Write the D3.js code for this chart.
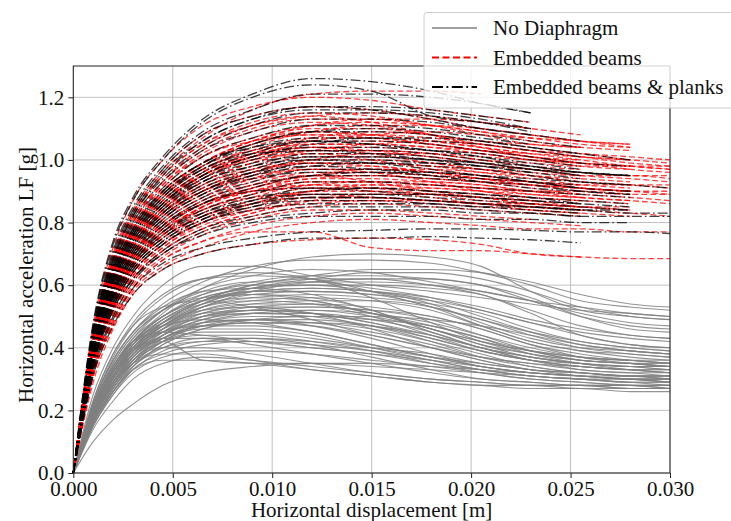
<!DOCTYPE html>
<html>
<head>
<meta charset="utf-8">
<script src="https://cdn.jsdelivr.net/npm/d3@7"></script>
<style>
  body { margin: 0; background: #fff; }
  svg text { font-family: "Liberation Serif", "Times New Roman", Times, "DejaVu Serif", serif !important; }
</style>
</head>
<body>
<script>
const W = 731, H = 521;
const PLOT = { left: 73.3, right: 670, top: 66, bottom: 473 };
const SERIF = "'Liberation Serif', 'Times New Roman', Times, 'DejaVu Serif', serif";

const X_TICKS = [0, 0.005, 0.010, 0.015, 0.020, 0.025, 0.030];
const Y_TICKS = [0.0, 0.2, 0.4, 0.6, 0.8, 1.0, 1.2];

// displacement samples shared by every curve; a curve stops where its values stop
const X_GRID = [0, 0.001, 0.002, 0.003, 0.0045, 0.0065, 0.009, 0.012, 0.015, 0.018, 0.0205, 0.023, 0.0255, 0.028, 0.030];

const SERIES_NAMES = ["No Diaphragm", "Embedded beams", "Embedded beams & planks"];

// No Diaphragm
const greyCurves = [
  [0,.20,.33,.42,.51,.59,.65,.69,.70,.69,.66,.58,.52,.50,.49],
  [0,.22,.36,.45,.54,.61,.66,.68,.68,.67,.64,.60,.55,.53,.52],
  [0,.25,.40,.50,.60,.66,.66,.63,.60,.58,.56,.54,.52,.51,.50],
  [0,.21,.34,.43,.52,.59,.63,.65,.64,.61,.58,.55,.53,.51,.50],
  [0,.23,.38,.48,.57,.62,.63,.62,.58,.53,.49,.45,.42,.40,.39],
  [0,.20,.33,.42,.50,.57,.61,.63,.63,.62,.60,.55,.50,.47,.46],
  [0,.19,.31,.40,.48,.55,.60,.62,.62,.60,.57,.52,.47,.44,.43],
  [0,.21,.35,.44,.52,.57,.60,.60,.58,.54,.48,.43,.40,.39,.38],
  [0,.20,.33,.42,.50,.56,.59,.60,.60,.59,.57,.51,.44,.41,.40],
  [0,.22,.36,.45,.53,.58,.59,.57,.52,.46,.42,.39,.37,.36,.36],
  [0,.19,.31,.40,.48,.54,.58,.59,.58,.55,.50,.45,.41,.39,.38],
  [0,.20,.32,.41,.49,.55,.58,.58,.57,.55,.52,.48,.44,.41,.40],
  [0,.18,.30,.39,.47,.53,.57,.58,.57,.53,.47,.42,.39,.38,.37],
  [0,.21,.34,.43,.50,.55,.57,.56,.52,.45,.40,.37,.35,.34,.34],
  [0,.19,.31,.40,.47,.53,.56,.57,.56,.54,.51,.46,.42,.40,.39],
  [0,.18,.29,.38,.46,.52,.55,.56,.55,.52,.47,.42,.39,.37,.36],
  [0,.20,.33,.42,.49,.54,.56,.55,.51,.46,.41,.38,.36,.35,.35],
  [0,.17,.28,.37,.45,.51,.54,.55,.55,.53,.49,.44,.40,.38,.37],
  [0,.19,.31,.40,.47,.52,.54,.54,.51,.47,.43,.39,.36,.35,.34],
  [0,.18,.30,.39,.46,.51,.53,.53,.52,.50,.46,.41,.37,.35,.34],
  [0,.21,.34,.42,.48,.52,.53,.51,.46,.40,.36,.33,.32,.31,.31],
  [0,.17,.28,.36,.44,.50,.52,.53,.52,.49,.44,.39,.36,.35,.34],
  [0,.20,.32,.40,.46,.50,.51,.50,.47,.42,.37,.34,.32,.31,.31],
  [0,.18,.29,.37,.44,.49,.51,.51,.49,.45,.40,.36,.34,.33,.32],
  [0,.16,.27,.35,.43,.48,.50,.50,.49,.47,.43,.38,.35,.33,.32],
  [0,.19,.31,.39,.45,.48,.49,.47,.43,.38,.34,.32,.31,.30,.30],
  [0,.17,.28,.36,.43,.47,.48,.48,.46,.42,.38,.34,.32,.31,.30],
  [0,.20,.32,.40,.45,.47,.47,.45,.41,.37,.34,.32,.31,.30,.29],
  [0,.16,.26,.34,.41,.46,.48,.48,.47,.44,.40,.36,.33,.32,.31],
  [0,.18,.30,.38,.43,.46,.46,.44,.40,.36,.33,.31,.30,.29,.29],
  [0,.21,.34,.42,.45,.44,.42,.40,.38,.36,.34,.32,.31,.30,.30],
  [0,.19,.31,.39,.43,.43,.41,.38,.35,.32,.30,.29,.28,.28,.28],
  [0,.17,.28,.36,.42,.44,.44,.42,.39,.35,.32,.30,.29,.28,.28],
  [0,.20,.33,.40,.42,.36,.35,.35,.34,.33,.32,.31,.30,.30,.29],
  [0,.16,.27,.34,.40,.43,.43,.41,.37,.33,.30,.29,.28,.28,.27],
  [0,.18,.29,.36,.40,.40,.38,.35,.32,.30,.29,.28,.28,.27,.27],
  [0,.15,.25,.33,.38,.41,.42,.41,.39,.36,.33,.31,.30,.29,.28],
  [0,.17,.28,.35,.38,.38,.36,.33,.31,.29,.28,.28,.27,.27,.27],
  [0,.15,.25,.32,.37,.39,.39,.38,.36,.34,.32,.30,.29,.28,.27],
  [0,.16,.26,.33,.36,.36,.35,.33,.31,.29,.28,.27,.27,.26,.26],
  [0,.10,.17,.22,.28,.32,.34,.35,.35,.34,.33,.32,.31,.30,.30],
  [0,.14,.23,.30,.35,.37,.36,.34,.32,.30,.29,.28,.28,.27,.27],
  [0,.17,.28,.35,.40,.42,.42,.40,.38,.35,.33,.31,.30,.29,.29],
  [0,.22,.37,.47,.56,.62,.64,.62,.56,.48,.42,.38,.36,.35,.34],
  [0,.19,.31,.40,.48,.55,.60,.63,.65,.65,.64,.61,.57,.54,.53],
  [0,.18,.30,.39,.47,.54,.59,.62,.64,.64,.62,.58,.53,.50,.49],
  [0,.17,.29,.38,.46,.53,.58,.61,.62,.62,.60,.56,.50,.46,.45],
  [0,.20,.32,.41,.48,.53,.55,.54,.50,.44,.39,.36,.34,.33,.33],
  [0,.16,.27,.35,.42,.48,.51,.52,.51,.48,.44,.40,.37,.36,.35],
  [0,.23,.38,.47,.53,.55,.53,.49,.44,.40,.37,.35,.34,.33,.33],
  [0,.21,.35,.44,.52,.58,.61,.61,.59,.56,.52,.48,.45,.43,.42],
  [0,.19,.32,.41,.49,.55,.58,.59,.58,.56,.53,.49,.46,.44,.43],
  [0,.18,.30,.38,.45,.50,.52,.51,.48,.43,.39,.36,.35,.34,.33],
  [0,.20,.33,.41,.47,.51,.52,.51,.48,.44,.40,.37,.35,.34,.34],
  [0,.17,.29,.37,.44,.49,.52,.52,.50,.46,.41,.37,.35,.34,.33],
  [0,.16,.27,.35,.42,.47,.49,.49,.47,.43,.39,.36,.34,.33,.32],
  [0,.21,.34,.42,.47,.49,.48,.45,.41,.37,.34,.32,.31,.31,.30],
  [0,.19,.31,.39,.45,.50,.53,.54,.53,.50,.46,.41,.38,.36,.35],
  [0,.18,.29,.37,.43,.47,.48,.47,.44,.40,.36,.33,.32,.31,.31],
  [0,.22,.36,.45,.52,.56,.57,.55,.51,.46,.42,.39,.37,.36,.35],
  [0,.15,.26,.34,.41,.46,.49,.50,.50,.49,.47,.44,.41,.39,.38],
  [0,.17,.28,.36,.42,.45,.45,.43,.40,.37,.35,.33,.32,.31,.31],
  [0,.20,.33,.42,.50,.56,.59,.61,.61,.60,.58,.55,.51,.48,.47],
  [0,.18,.30,.38,.44,.48,.49,.48,.45,.41,.37,.35,.33,.32,.32],
  [0,.16,.26,.33,.39,.42,.43,.42,.40,.38,.35,.33,.31,.30,.29]
];

// Embedded beams
const redCurves = [
  [0,.44,.68,.83,.96,1.07,1.16,1.21,1.22,1.22,1.21],
  [0,.47,.72,.87,1.00,1.11,1.17,1.20,1.19,1.16,1.14,1.12],
  [0,.45,.70,.84,.97,1.08,1.14,1.17,1.16,1.13,1.10,1.08,1.06,1.05],
  [0,.44,.68,.82,.95,1.05,1.12,1.15,1.14,1.11,1.08,1.05,1.04],
  [0,.43,.67,.81,.93,1.03,1.10,1.13,1.13,1.11,1.09,1.07,1.05,1.04],
  [0,.42,.66,.80,.92,1.02,1.09,1.12,1.11,1.08,1.05,1.03,1.01,.99,.98],
  [0,.43,.66,.79,.91,1.01,1.07,1.11,1.12,1.11,1.09,1.06,1.04],
  [0,.41,.64,.78,.90,.99,1.06,1.10,1.10,1.08,1.06,1.04,1.02,1.00],
  [0,.42,.65,.78,.90,.99,1.05,1.09,1.08,1.06,1.04,1.02,1.00,.98,.97],
  [0,.40,.63,.77,.89,.98,1.05,1.08,1.08,1.07,1.05,1.03,1.01,1.00],
  [0,.41,.63,.76,.88,.97,1.03,1.07,1.07,1.05,1.03,1.01,.99],
  [0,.40,.62,.75,.87,.96,1.02,1.06,1.06,1.05,1.03,1.01,.99,.97,.96],
  [0,.39,.61,.74,.86,.95,1.01,1.05,1.05,1.04,1.02,1.00,.98,.97],
  [0,.40,.61,.74,.85,.94,1.00,1.04,1.03,1.01,.99,.97,.95,.94,.93],
  [0,.39,.60,.73,.84,.93,.99,1.03,1.03,1.02,1.00,.99,.98,.98,.98],
  [0,.38,.59,.72,.83,.92,.98,1.02,1.02,1.01,.99,.97,.95],
  [0,.39,.60,.72,.83,.91,.97,1.01,1.01,1.00,.98,.97,.96,.95,.95],
  [0,.38,.58,.71,.82,.90,.96,1.00,1.00,.99,.97,.95,.93,.92],
  [0,.37,.58,.70,.81,.89,.95,.99,.99,.98,.96,.94,.92],
  [0,.38,.58,.70,.80,.88,.94,.98,.98,.96,.94,.92,.90,.89,.89],
  [0,.37,.57,.69,.79,.87,.93,.97,.97,.96,.95,.93,.92,.91],
  [0,.36,.56,.68,.78,.86,.92,.96,.96,.95,.93,.91,.89],
  [0,.37,.56,.68,.78,.86,.91,.95,.95,.94,.93,.92,.91,.90],
  [0,.36,.55,.67,.77,.85,.90,.94,.94,.93,.92,.90,.88,.87],
  [0,.35,.55,.66,.76,.84,.89,.93,.93,.92,.91,.89,.88],
  [0,.36,.54,.66,.75,.83,.88,.92,.92,.91,.90,.88,.87,.86],
  [0,.35,.54,.65,.74,.82,.87,.91,.91,.90,.89,.87,.85],
  [0,.34,.53,.64,.73,.81,.86,.90,.90,.89,.88,.86,.85,.84],
  [0,.35,.53,.64,.73,.80,.85,.89,.89,.89,.88,.87,.86],
  [0,.34,.52,.63,.72,.79,.84,.88,.88,.87,.86,.84,.83],
  [0,.33,.51,.62,.71,.78,.83,.87,.87,.86,.85,.84,.83,.82],
  [0,.33,.50,.61,.70,.77,.82,.85,.86,.85,.84,.83,.82],
  [0,.32,.49,.60,.69,.76,.81,.84,.84,.83,.82,.81],
  [0,.32,.48,.59,.68,.74,.79,.82,.83,.82,.81,.80,.79],
  [0,.31,.47,.58,.66,.72,.77,.80,.81,.80,.79,.78,.78,.77,.77],
  [0,.31,.48,.59,.68,.74,.77,.77,.72,.71,.71,.70,.69],
  [0,.29,.46,.57,.65,.70,.73,.745,.75,.745,.73,.70,.69,.685,.685],
  [0,.41,.64,.78,.90,.99,1.06,1.09,1.08,1.06,1.04,1.02],
  [0,.39,.61,.74,.86,.95,1.01,1.04,1.04,1.03,1.02,1.00,.99,.98],
  [0,.37,.57,.69,.80,.88,.94,.97,.97,.96,.94,.93,.91,.90,.89],
  [0,.43,.66,.80,.93,1.04,1.11,1.14,1.12,1.08,1.04,1.01,.99],
  [0,.40,.62,.75,.86,.96,1.04,1.09,1.11,1.11,1.10,1.08,1.06,1.04],
  [0,.42,.64,.77,.88,.97,1.02,1.04,1.02,.99,.97,.95,.93,.92,.91],
  [0,.38,.60,.73,.85,.95,1.02,1.07,1.09,1.08,1.06,1.05,1.04,1.03],
  [0,.41,.63,.76,.87,.95,1.00,1.02,1.00,.97,.95,.93,.91,.90],
  [0,.39,.60,.72,.82,.90,.95,.97,.96,.93,.90,.88,.87],
  [0,.36,.57,.70,.81,.90,.96,1.00,1.02,1.02,1.01,1.00,.99,.98,.97],
  [0,.37,.56,.67,.76,.84,.89,.92,.93,.93,.92,.90,.89,.88,.87],
  [0,.40,.61,.73,.83,.90,.94,.95,.93,.90,.88,.86,.85],
  [0,.35,.54,.66,.76,.85,.91,.95,.97,.97,.96,.95,.94,.93],
  [0,.38,.58,.70,.79,.86,.90,.92,.91,.89,.87,.86,.85,.84],
  [0,.36,.55,.66,.75,.82,.87,.90,.91,.91,.90,.89,.88,.87,.86],
  [0,.39,.59,.70,.79,.86,.90,.91,.90,.88,.86,.85,.84],
  [0,.34,.52,.63,.72,.80,.86,.90,.92,.92,.91,.90,.89],
  [0,.37,.56,.67,.76,.82,.86,.88,.88,.87,.86,.85,.84,.83,.82],
  [0,.44,.67,.80,.92,1.01,1.06,1.08,1.07,1.05,1.03,1.02,1.01,1.00,.99],
  [0,.43,.65,.78,.89,.98,1.03,1.05,1.05,1.04,1.03,1.01,1.00],
  [0,.41,.62,.74,.84,.92,.97,.99,.99,.98,.97,.96,.95,.95,.94],
  [0,.45,.69,.83,.95,1.05,1.11,1.14,1.15,1.14,1.12,1.10,1.08],
  [0,.38,.59,.72,.84,.94,1.01,1.06,1.08,1.09,1.08,1.07,1.06,1.05],
  [0,.40,.61,.73,.83,.91,.96,.99,.98,.96,.94,.92,.91,.90],
  [0,.36,.55,.67,.77,.85,.91,.94,.95,.94,.93,.92,.91,.90,.90],
  [0,.39,.58,.69,.78,.84,.88,.89,.88,.87,.86,.85,.84],
  [0,.42,.64,.77,.89,.99,1.06,1.11,1.13,1.13,1.12,1.10],
  [0,.37,.57,.69,.79,.87,.92,.95,.96,.95,.94,.93,.92,.92,.92],
  [0,.41,.63,.76,.87,.96,1.01,1.03,1.03,1.02,1.00,.98,.97],
  [0,.35,.53,.64,.73,.80,.84,.86,.87,.87,.86,.86,.85,.85],
  [0,.33,.51,.62,.71,.78,.83,.87,.89,.89,.88,.87],
  [0,.39,.60,.73,.84,.93,.99,1.03,1.05,1.06,1.05,1.03,1.02,1.01,1.00],
  [0,.36,.55,.67,.77,.85,.90,.93,.93,.92,.91,.90,.90,.89]
];

// Embedded beams & planks
const blackCurves = [
  [0,.48,.74,.88,1.01,1.13,1.21,1.26,1.25,1.22,1.18,1.15],
  [0,.47,.73,.87,1.00,1.12,1.20,1.24,1.22,1.14,1.12,1.10],
  [0,.46,.71,.85,.98,1.09,1.16,1.21,1.21,1.20,1.18,1.15],
  [0,.45,.69,.83,.96,1.06,1.13,1.16,1.16,1.15,1.13,1.10],
  [0,.44,.68,.82,.94,1.04,1.11,1.15,1.15,1.14,1.12,1.09],
  [0,.44,.67,.81,.93,1.03,1.09,1.13,1.13,1.12,1.10,1.08,1.06],
  [0,.43,.66,.80,.91,1.01,1.07,1.11,1.11,1.10,1.08,1.06,1.04],
  [0,.42,.65,.78,.90,.99,1.05,1.09,1.09,1.08,1.06,1.04,1.02,1.00],
  [0,.42,.64,.77,.89,.98,1.04,1.07,1.07,1.06,1.05,1.03,1.01],
  [0,.41,.63,.76,.87,.96,1.02,1.06,1.06,1.05,1.03,1.01,.99,.98],
  [0,.41,.62,.75,.86,.95,1.01,1.04,1.04,1.03,1.02,1.00,.98],
  [0,.40,.61,.74,.85,.94,1.00,1.03,1.03,1.02,1.00,.98,.96,.95],
  [0,.40,.61,.73,.84,.93,.98,1.02,1.02,1.01,.99,.97,.95],
  [0,.39,.60,.72,.83,.92,.97,1.01,1.01,1.00,.99,.98,.96,.95],
  [0,.39,.59,.71,.82,.90,.96,1.00,1.00,.99,.98,.96,.94],
  [0,.38,.58,.70,.81,.89,.95,.99,.99,.98,.97,.95,.93,.92],
  [0,.38,.58,.70,.80,.88,.93,.97,.97,.96,.95,.93,.91],
  [0,.37,.57,.68,.78,.86,.91,.95,.95,.94,.93,.92,.90,.89],
  [0,.36,.56,.67,.77,.84,.89,.93,.93,.92,.91,.90,.89,.88],
  [0,.36,.55,.66,.75,.82,.87,.91,.91,.90,.89,.88,.86],
  [0,.35,.54,.65,.74,.81,.86,.89,.89,.89,.88,.87,.86,.85],
  [0,.35,.53,.64,.73,.80,.85,.88,.88,.87,.86,.85,.84,.83,.83],
  [0,.34,.52,.62,.71,.78,.82,.85,.85,.85,.84,.83,.82],
  [0,.33,.50,.61,.70,.76,.80,.82,.82,.82,.81,.81,.80,.80],
  [0,.32,.49,.59,.67,.72,.75,.77,.775,.78,.78,.775,.77,.77,.765],
  [0,.31,.47,.57,.65,.70,.73,.75,.75,.755,.75,.745,.735],
  [0,.44,.68,.82,.95,1.06,1.13,1.17,1.17,1.16,1.14,1.12],
  [0,.43,.66,.79,.90,.99,1.04,1.06,1.05,1.03,1.01,.99,.97],
  [0,.41,.63,.76,.88,.98,1.05,1.09,1.10,1.09,1.07,1.05],
  [0,.40,.61,.73,.83,.91,.96,.98,.97,.95,.93,.91,.90,.89],
  [0,.39,.59,.71,.81,.89,.94,.96,.96,.95,.94,.93,.92],
  [0,.42,.64,.77,.88,.97,1.03,1.06,1.05,1.03,1.01,.98,.96,.95],
  [0,.37,.57,.69,.79,.87,.92,.95,.96,.96,.95,.94,.93,.92,.91],
  [0,.38,.58,.69,.79,.86,.90,.91,.90,.89,.88,.87,.86],
  [0,.36,.55,.66,.75,.82,.86,.88,.88,.87,.86,.85,.84,.84],
  [0,.40,.62,.75,.86,.95,1.01,1.05,1.07,1.07,1.06,1.04,1.02],
  [0,.35,.53,.64,.73,.80,.84,.86,.86,.86,.85,.85,.84],
  [0,.43,.65,.78,.89,.97,1.02,1.03,1.02,1.00,.98,.96],
  [0,.38,.57,.68,.77,.83,.87,.89,.89,.88,.87,.86,.85,.84],
  [0,.41,.62,.74,.85,.93,.98,1.00,.99,.97,.95,.93,.91,.90],
  [0,.45,.70,.84,.97,1.08,1.14,1.17,1.16,1.13,1.10,1.08],
  [0,.37,.56,.67,.76,.83,.88,.90,.91,.90,.89,.88,.87,.86],
  [0,.39,.60,.72,.82,.90,.95,.98,.99,.99,.98,.97,.95],
  [0,.34,.52,.62,.70,.77,.81,.83,.84,.84,.83,.83,.82,.82,.82],
  [0,.42,.63,.76,.86,.94,.99,1.01,1.01,1.00,.99,.97,.96,.95],
  [0,.36,.54,.65,.74,.81,.85,.87,.87,.86,.85,.84,.83]
];

const svg = d3.select("body").append("svg")
    .attr("width", W)
    .attr("height", H)
    .attr("font-family", SERIF);

const x = d3.scaleLinear().domain([0, 0.03]).range([PLOT.left, PLOT.right]);
const y = d3.scaleLinear().domain([0, 1.3]).range([PLOT.bottom, PLOT.top]);

// grid
const grid = svg.append("g").attr("stroke", "#b0b0b0").attr("stroke-width", 0.8);
grid.selectAll("line.gx").data(X_TICKS).enter().append("line")
    .attr("x1", d => x(d)).attr("x2", d => x(d))
    .attr("y1", PLOT.top).attr("y2", PLOT.bottom);
grid.selectAll("line.gy").data(Y_TICKS).enter().append("line")
    .attr("x1", PLOT.left).attr("x2", PLOT.right)
    .attr("y1", d => y(d)).attr("y2", d => y(d));

const line = d3.line()
    .x((d, i) => x(X_GRID[i]))
    .y(d => y(d))
    .curve(d3.curveMonotoneX);

const curves = svg.append("g");

curves.selectAll("path.grey").data(greyCurves).enter().append("path")
    .attr("class", "grey")
    .attr("d", line)
    .attr("fill", "none")
    .attr("stroke", "#808080")
    .attr("stroke-opacity", 0.85)
    .attr("stroke-width", 1.1);

curves.selectAll("path.red").data(redCurves).enter().append("path")
    .attr("class", "red")
    .attr("d", line)
    .attr("fill", "none")
    .attr("stroke", "#ff0000")
    .attr("stroke-opacity", 0.75)
    .attr("stroke-width", 1.3)
    .attr("stroke-dasharray", "6,3");

curves.selectAll("path.black").data(blackCurves).enter().append("path")
    .attr("class", "black")
    .attr("d", line)
    .attr("fill", "none")
    .attr("stroke", "#000")
    .attr("stroke-opacity", 0.75)
    .attr("stroke-width", 1.3)
    .attr("stroke-dasharray", "10,3,1.6,3");

// axes
const xAxis = svg.append("g")
    .attr("transform", "translate(0," + PLOT.bottom + ")")
    .call(d3.axisBottom(x).tickValues(X_TICKS).tickFormat(d3.format(".3f")).tickSize(5).tickPadding(3));
const yAxis = svg.append("g")
    .attr("transform", "translate(" + PLOT.left + ",0)")
    .call(d3.axisLeft(y).tickValues(Y_TICKS).tickFormat(d3.format(".1f")).tickSize(5).tickPadding(4));

[xAxis, yAxis].forEach(function(a) {
    a.attr("font-family", SERIF).attr("font-size", 21);
    a.select(".domain").remove();
    a.selectAll(".tick line").attr("stroke", "#222");
    a.selectAll(".tick text").attr("fill", "#111");
});

svg.append("rect")
    .attr("x", PLOT.left).attr("y", PLOT.top)
    .attr("width", PLOT.right - PLOT.left).attr("height", PLOT.bottom - PLOT.top)
    .attr("fill", "none").attr("stroke", "#222").attr("stroke-width", 1);

svg.append("text")
    .attr("x", (PLOT.left + PLOT.right) / 2)
    .attr("y", 517)
    .attr("text-anchor", "middle")
    .attr("font-size", 21)
    .attr("fill", "#111")
    .text("Horizontal displacement [m]");

svg.append("text")
    .attr("transform", "translate(33,275) rotate(-90)")
    .attr("text-anchor", "middle")
    .attr("font-size", 21)
    .attr("fill", "#111")
    .text("Horizontal acceleration LF [g]");

// legend
const legend = svg.append("g").attr("transform", "translate(424,12.5)");
legend.append("rect")
    .attr("width", 330).attr("height", 95.5)
    .attr("rx", 3)
    .attr("fill", "#fff").attr("fill-opacity", 0.8)
    .attr("stroke", "#cccccc").attr("stroke-width", 1);

const legendStyles = [
    { stroke: "#808080", dash: null, width: 1.6 },
    { stroke: "#ff0000", dash: "7,3.5", width: 1.8 },
    { stroke: "#000", dash: "11,3.5,1.8,3.5", width: 1.8 }
];

const items = legend.selectAll("g.item").data(SERIES_NAMES).enter().append("g")
    .attr("class", "item")
    .attr("transform", (d, i) => "translate(0," + (15.5 + i * 29.5) + ")");
items.append("line")
    .attr("x1", 8).attr("x2", 53)
    .attr("stroke", (d, i) => legendStyles[i].stroke)
    .attr("stroke-width", (d, i) => legendStyles[i].width)
    .attr("stroke-dasharray", (d, i) => legendStyles[i].dash);
items.append("text")
    .attr("x", 69)
    .attr("y", 7)
    .attr("font-size", 21)
    .attr("fill", "#111")
    .text(d => d);
</script>
</body>
</html>
